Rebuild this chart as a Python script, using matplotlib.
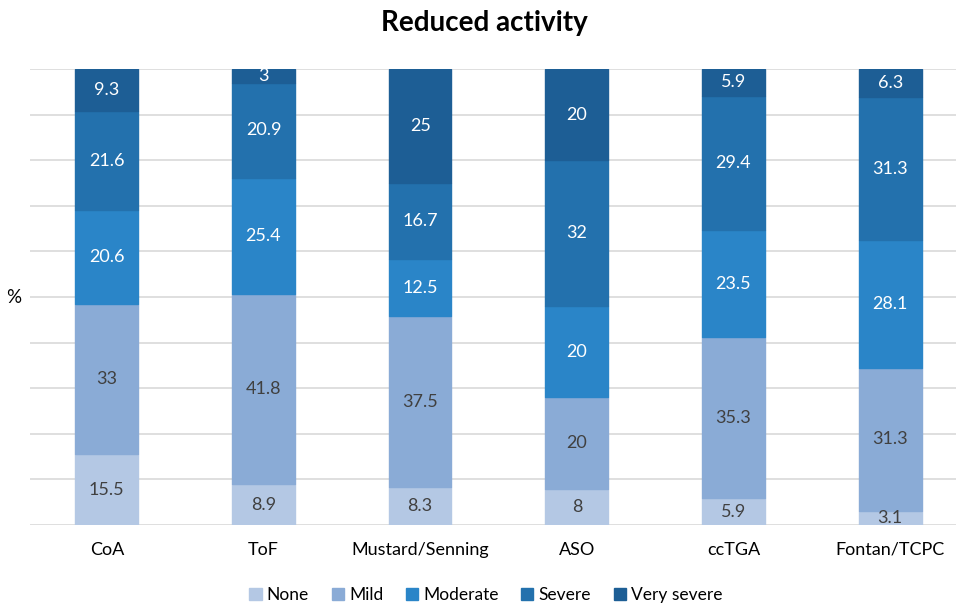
import matplotlib
matplotlib.use("Agg")
import matplotlib.pyplot as plt
import numpy as np
from matplotlib.patches import Patch

plt.rcParams["font.family"] = ["Lato", "DejaVu Sans"]

categories = ["CoA", "ToF", "Mustard/Senning", "ASO", "ccTGA", "Fontan/TCPC"]
levels = ["None", "Mild", "Moderate", "Severe", "Very severe"]
none_vals = [15.5, 8.9, 8.3, 8, 5.9, 3.1]
mild_vals = [33, 41.8, 37.5, 20, 35.3, 31.3]
moderate_vals = [20.6, 25.4, 12.5, 20, 23.5, 28.1]
severe_vals = [21.6, 20.9, 16.7, 32, 29.4, 31.3]
very_severe_vals = [9.3, 3, 25, 20, 5.9, 6.3]

series = [none_vals, mild_vals, moderate_vals, severe_vals, very_severe_vals]
colors = ["#b4c8e4", "#8aabd6", "#2a85c8", "#2371ad", "#1d5e95"]
text_colors = ["#404040", "#404040", "white", "white", "white"]

fig = plt.figure(figsize=(9.56, 6.05), dpi=100)
ax = fig.add_axes([30 / 956, 1 - 525 / 605, 926 / 956, (525 - 69) / 605])

x = np.arange(len(categories))
bottom = np.zeros(len(categories))
for vals, c, tc in zip(series, colors, text_colors):
    vals = np.array(vals, dtype=float)
    ax.bar(x, vals, bottom=bottom, width=0.4, color=c, edgecolor=c, zorder=3)
    for xi, b, v in zip(x, bottom, vals):
        top = min(b + v, 100)
        ax.text(xi, (b + top) / 2, f"{v:g}", ha="center", va="center",
                fontsize=13, color=tc, zorder=4)
    bottom += vals

ax.set_xlim(-0.49, 5.42)
ax.set_ylim(0, 100)
ax.set_yticks(np.arange(0, 101, 10))
ax.set_yticklabels([])
ax.tick_params(axis="y", length=0)
ax.tick_params(axis="x", length=0, pad=12, labelsize=13)
ax.set_xticks(x)
ax.set_xticklabels(categories)
ax.grid(axis="y", color="#d9d9d9", lw=1.2, zorder=0)
for s in ax.spines.values():
    s.set_visible(False)

fig.text(14 / 956, 1 - 297 / 605, "%", ha="center", va="center", fontsize=13.5)
fig.suptitle("Reduced activity", x=484 / 956, y=1 - 23 / 605, fontsize=20,
             fontweight="bold", va="center")

handles = [Patch(facecolor=c, edgecolor=c) for c in colors]
fig.legend(handles, levels, loc="center", bbox_to_anchor=(486 / 956, 1 - 595 / 605),
           ncol=5, frameon=False, fontsize=12.5, handlelength=0.7, handleheight=0.7,
           handletextpad=0.3, columnspacing=1.3)

fig.savefig("out.png", dpi=100)
